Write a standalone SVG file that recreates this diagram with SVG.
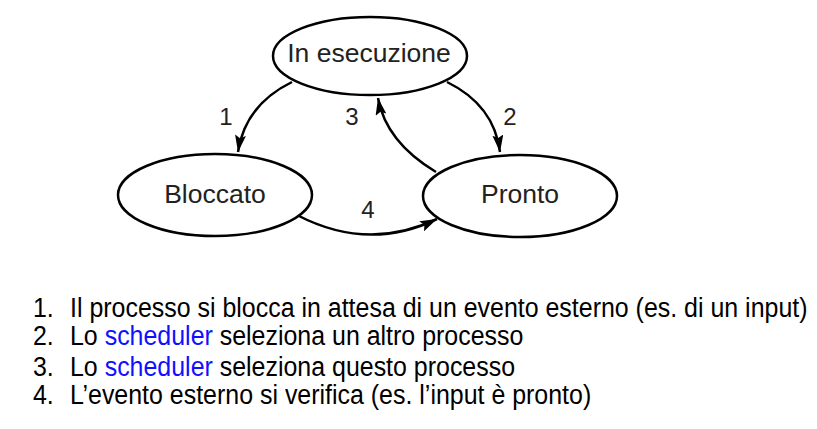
<svg xmlns="http://www.w3.org/2000/svg" width="817" height="429" viewBox="0 0 817 429">
  <style>
    .node { fill: #ffffff; stroke: #000000; stroke-width: 2.5; }
    .ntext { font-family: "Liberation Sans", Arial, sans-serif; font-size: 26.5px; fill: #222222; text-anchor: middle; }
    .lbl { font-family: "Liberation Sans", Arial, sans-serif; font-size: 24px; fill: #222222; text-anchor: middle; }
    .edge { fill: none; stroke: #000000; stroke-width: 2.5; marker-end: url(#ah); }
    .list { font-family: "Liberation Sans", Arial, sans-serif; font-size: 27px; fill: #000000; }
    .hl { fill: #1010ff; }
  </style>
  <defs>
    <marker id="ah" markerUnits="userSpaceOnUse" markerWidth="18" markerHeight="11" refX="17" refY="5.5" orient="auto">
      <path d="M0,0 L17,5.5 L0,11 L3,5.5 z" fill="#000000"/>
    </marker>
  </defs>
  <rect width="817" height="429" fill="#ffffff"/>

  <g id="connectors">
    <path id="e1" class="edge" d="M292,82 Q245,105 238,152"/>
    <path id="e2" class="edge" d="M447,82 Q494,105 500,152"/>
    <path id="e3" class="edge" d="M436,172 Q386,142 378,98"/>
    <path id="e4" class="edge" d="M297,215 Q368,252 437,219"/>
  </g>

  <g id="edge-labels">
    <text class="lbl" x="226" y="125">1</text>
    <text class="lbl" x="352" y="125">3</text>
    <text class="lbl" x="510" y="125">2</text>
    <text class="lbl" x="368" y="218">4</text>
  </g>

  <g id="node-esecuzione">
    <ellipse class="node" cx="370" cy="56" rx="97" ry="39"/>
    <text class="ntext" x="369" y="62">In esecuzione</text>
  </g>
  <g id="node-bloccato">
    <ellipse class="node" cx="215" cy="195" rx="97" ry="41"/>
    <text class="ntext" x="215" y="203">Bloccato</text>
  </g>
  <g id="node-pronto">
    <ellipse class="node" cx="520" cy="196" rx="97" ry="41"/>
    <text class="ntext" x="520" y="203">Pronto</text>
  </g>

  <g id="legend">
    <g transform="translate(33,0) scale(0.924,1)">
      <text class="list" x="0" y="317">1.</text>
      <text class="list" x="0" y="345">2.</text>
      <text class="list" x="0" y="376">3.</text>
      <text class="list" x="0" y="404">4.</text>
    </g>
    <g transform="translate(70,0) scale(0.924,1)">
      <text class="list" x="0" y="317">Il processo si blocca in attesa di un evento esterno (es. di un input)</text>
      <text class="list" x="0" y="345">Lo <tspan class="hl">scheduler</tspan> seleziona un altro processo</text>
      <text class="list" x="0" y="376">Lo <tspan class="hl">scheduler</tspan> seleziona questo processo</text>
      <text class="list" x="0" y="404">L’evento esterno si verifica (es. l’input è pronto)</text>
    </g>
  </g>
</svg>
